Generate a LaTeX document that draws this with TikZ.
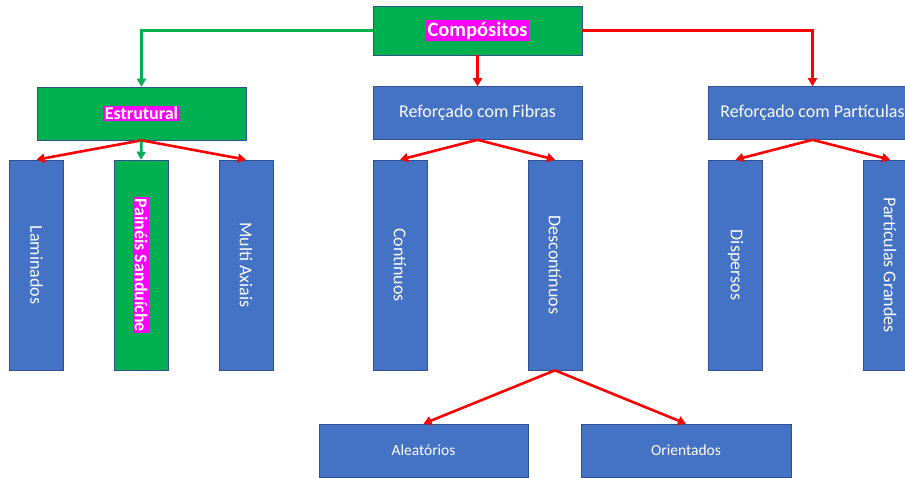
\documentclass[tikz,border=0pt]{standalone}
\usepackage{fontspec}
\setmainfont{Carlito}
\usetikzlibrary{arrows.meta}
\definecolor{boxblue}{HTML}{4472C4}
\definecolor{boxgreen}{HTML}{00B050}
\definecolor{edgeblue}{HTML}{2F528F}
\definecolor{hlmag}{HTML}{FF00FF}
\definecolor{arrred}{HTML}{FF0000}
\definecolor{arrgreen}{HTML}{00B050}
\tikzset{
  base/.style={draw=edgeblue, line width=0.6pt, text=white, inner sep=0pt, anchor=center},
  bluebox/.style={base, fill=boxblue},
  greenbox/.style={base, fill=boxgreen},
  wide/.style={minimum width=209pt, minimum height=53pt},
  tall/.style={minimum width=54pt, minimum height=210pt},
  redarr/.style={draw=arrred, line width=2.6pt, -{Triangle[length=8pt,width=9pt]}},
  greenarr/.style={draw=arrgreen, line width=2.6pt, -{Triangle[length=8pt,width=9pt]}},
  big/.style={font=\fontsize{18}{21}\selectfont},
  small/.style={font=\fontsize{15.5}{18}\selectfont},
}
\newcommand{\hl}[1]{{\setlength{\fboxsep}{1.5pt}\colorbox{hlmag}{\bfseries #1}}}
\begin{document}
\begin{tikzpicture}[x=1pt,y=-1pt]
\useasboundingbox (0,0) rectangle (905,477);
\clip (0,0) rectangle (905,477);
% top level
\node[greenbox, minimum width=209pt, minimum height=49pt, font=\fontsize{20.5}{24}\selectfont] (comp) at (477.5,30.5) {\hl{Compósitos}};
% second level
\node[greenbox, wide, big] (estr) at (141.5,113.5) {\hl{Estrutural}};
\node[bluebox, wide, big] (fib) at (477.5,113) {Reforçado com Fibras};
\node[bluebox, wide, big] (part) at (812.5,113) {Reforçado com Partículas};
% tall boxes
\node[bluebox, tall, big] (lam) at (36.5,265) {\rotatebox{-90}{Laminados}};
\node[greenbox, tall, big] (pain) at (141,265) {\rotatebox{-90}{\hl{Painéis Sanduíche}}};
\node[bluebox, tall, big] (multi) at (246,265) {\rotatebox{-90}{Multi Axiais}};
\node[bluebox, tall, big] (cont) at (400,265) {\rotatebox{-90}{Contínuos}};
\node[bluebox, tall, big] (desc) at (555,265) {\rotatebox{-90}{Descontínuos}};
\node[bluebox, tall, big] (disp) at (735.5,265) {\rotatebox{-90}{Dispersos}};
\node[bluebox, tall, big] (grand) at (890,265) {\rotatebox{-90}{Partículas Grandes}};
% bottom
\node[bluebox, wide, small] (alea) at (423.5,450.5) {Aleatórios};
\node[bluebox, minimum width=210pt, minimum height=53pt, small] (ori) at (686,450.5) {Orientados};
% connectors
\draw[greenarr] (comp.west) -| (estr.north);
\draw[redarr] (comp.east) -| (part.north);
\draw[redarr] (comp.south) -- (fib.north);
\draw[redarr] (estr.south) -- (lam.north);
\draw[greenarr] (estr.south) -- (pain.north);
\draw[redarr] (estr.south) -- (multi.north);
\draw[redarr] (fib.south) -- (cont.north);
\draw[redarr] (fib.south) -- (desc.north);
\draw[redarr] (part.south) -- (disp.north);
\draw[redarr] (part.south) -- (grand.north);
\draw[redarr] (desc.south) -- (alea.north);
\draw[redarr] (desc.south) -- (ori.north);
\end{tikzpicture}
\end{document}
